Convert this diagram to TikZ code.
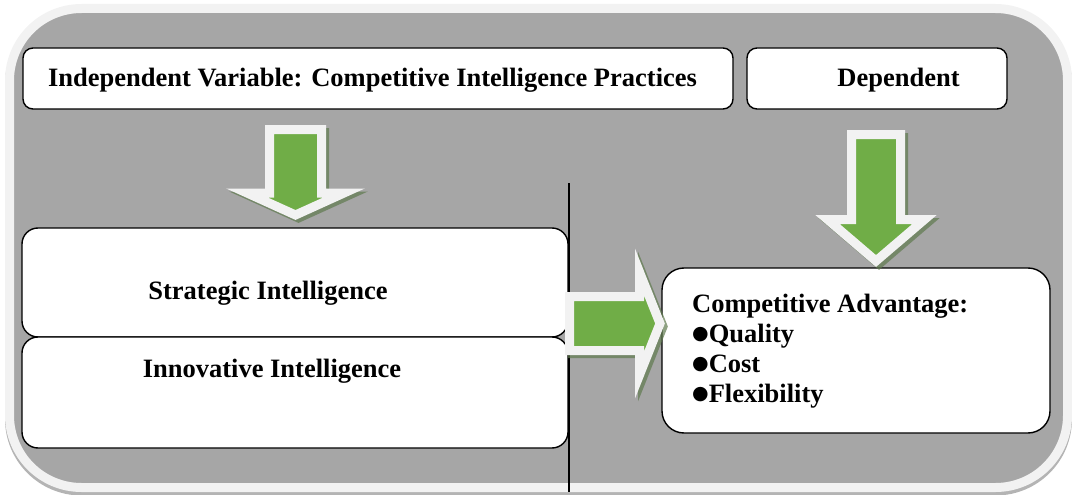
\documentclass[tikz,border=0pt]{standalone}
\usepackage{fontspec}
\setmainfont{Liberation Serif}
\newfontfamily\symfont{DejaVu Sans}
\definecolor{panel}{HTML}{A6A6A6}
\definecolor{rim}{HTML}{F2F2F2}
\definecolor{rimshadow}{HTML}{B4B4B4}
\definecolor{leaf}{HTML}{70AD47}
\definecolor{leafshadow}{HTML}{5F7A4E}
\newcommand{\blt}{\raisebox{2.5pt}{\symfont\fontsize{19}{19}\selectfont ●}}
\begin{document}
\begin{tikzpicture}[x=1pt,y=-1pt,
  box/.style={draw=black, line width=1.4, fill=white, inner sep=0},
  txt/.style={font=\bfseries\fontsize{26.5}{30}\selectfont, inner sep=0, anchor=base},
  lefttxt/.style={txt, anchor=base west},
  blockarrow/.style={fill=leaf, draw=rim, line width=9, line join=miter, miter limit=10},
  blockshadow/.style={fill=leafshadow, draw=leafshadow, line width=9, line join=miter, miter limit=10, opacity=0.7}
]
\useasboundingbox (0,0) rectangle (1072,495);

% outer panel with its light rim and soft drop shadow
\draw[line width=9, draw=rimshadow, rounded corners=72] (9.5,12) rectangle (1067.5,491);
\draw[line width=9, draw=rim, fill=panel, rounded corners=72] (9.5,8.5) rectangle (1067.5,487.5);

% header boxes
\node[box, rounded corners=10, minimum width=710, minimum height=61] (indep) at (378,78.5) {};
\node[box, rounded corners=10, minimum width=260, minimum height=61] (dep) at (877,78.5) {};

% dimension boxes
\node[box, rounded corners=16, minimum width=546, minimum height=109] (strat) at (295,282.5) {};
\node[box, rounded corners=16, minimum width=546, minimum height=111] (innov) at (295,392.5) {};

% outcome box
\node[box, rounded corners=22, minimum width=388, minimum height=165] (comp) at (856,350.5) {};

% divider between the two sides
\coordinate (divtop) at (569,183);
\coordinate (divbot) at (569,492);
\draw[line width=1.3] (divtop) -- (divbot);

% block arrow: independent variable -> dimensions
\path[blockshadow, shift={(3,3)}] (269.5,129.5) -- (321.5,129.5) -- (321.5,193) -- (344,193) -- (295.5,215) -- (247,193) -- (269.5,193) -- cycle;
\path[blockarrow] (269.5,129.5) -- (321.5,129.5) -- (321.5,193) -- (344,193) -- (295.5,215) -- (247,193) -- (269.5,193) -- cycle;

% block arrow: dependent -> competitive advantage
\path[blockshadow, shift={(3,3)}] (851.5,134.5) -- (900.5,134.5) -- (900.5,219.5) -- (924.5,219.5) -- (876,261) -- (827.5,219.5) -- (851.5,219.5) -- cycle;
\path[blockarrow] (851.5,134.5) -- (900.5,134.5) -- (900.5,219.5) -- (924.5,219.5) -- (876,261) -- (827.5,219.5) -- (851.5,219.5) -- cycle;

% block arrow: dimensions -> competitive advantage
\path[blockshadow, shift={(3,3)}] (569.5,296.5) -- (639.5,296.5) -- (639.5,272) -- (660,323.5) -- (639.5,375) -- (639.5,350.5) -- (569.5,350.5) -- cycle;
\path[blockarrow] (569.5,296.5) -- (639.5,296.5) -- (639.5,272) -- (660,323.5) -- (639.5,375) -- (639.5,350.5) -- (569.5,350.5) -- cycle;

% labels
\node[txt] (indeptxt) at (372.5,87) {Independent Variable: Competitive Intelligence Practices};
\node[txt] (deptxt) at (898.5,87) {Dependent};
\node[txt] (strattxt) at (268,299) {Strategic Intelligence};
\node[txt] (innovtxt) at (272,377) {Innovative Intelligence};
\node[lefttxt] (comptxt) at (692,312) {Competitive Advantage:};
\node[lefttxt] (quality) at (692,342) {\blt Quality};
\node[lefttxt] (cost) at (692,372) {\blt Cost};
\node[lefttxt] (flex) at (692,402) {\blt Flexibility};
\end{tikzpicture}
\end{document}
